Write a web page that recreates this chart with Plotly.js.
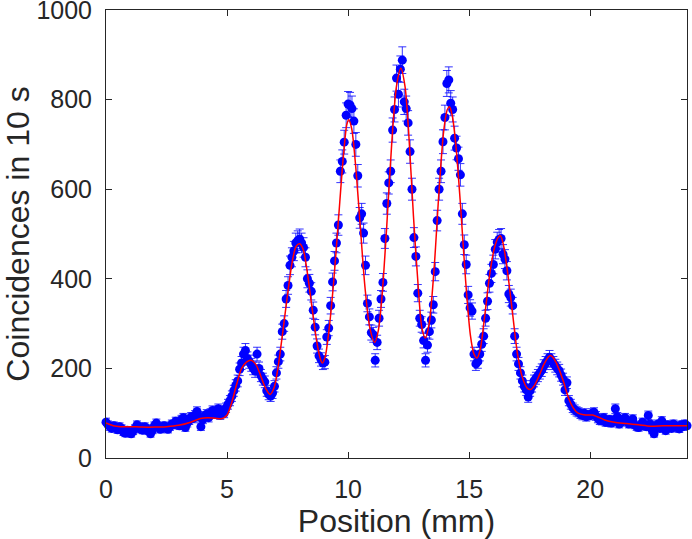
<!DOCTYPE html>
<html>
<head>
<meta charset="utf-8">
<script src="https://cdn.plot.ly/plotly-3.0.1.min.js"></script>
<style>html,body{margin:0;padding:0;background:#fff;}#chart{width:692px;height:539px;}</style>
</head>
<body>
<div id="chart"></div>
<script>
// Measured positions (mm)
const positions = [0.00,0.08,0.16,0.24,0.32,0.40,0.48,0.56,0.64,0.72,0.80,0.88,0.96,1.04,1.12,1.20,1.28,1.36,1.44,1.52,1.60,1.68,1.76,1.84,1.92,2.00,2.08,2.16,2.24,2.32,2.40,2.48,2.56,2.64,2.72,2.80,2.88,2.96,3.04,3.12,3.20,3.28,3.36,3.44,3.52,3.60,3.68,3.76,3.84,3.92,4.00,4.08,4.16,4.24,4.32,4.40,4.48,4.56,4.64,4.72,4.80,4.88,4.96,5.04,5.12,5.20,5.28,5.36,5.44,5.52,5.60,5.68,5.76,5.84,5.92,6.00,6.08,6.16,6.24,6.32,6.40,6.48,6.56,6.64,6.72,6.80,6.88,6.96,7.04,7.12,7.20,7.28,7.36,7.44,7.52,7.60,7.68,7.76,7.84,7.92,8.00,8.08,8.16,8.24,8.32,8.40,8.48,8.56,8.64,8.72,8.80,8.88,8.96,9.04,9.12,9.20,9.28,9.36,9.44,9.52,9.60,9.68,9.76,9.84,9.92,10.00,10.08,10.16,10.24,10.32,10.40,10.48,10.56,10.64,10.72,10.80,10.88,10.96,11.04,11.12,11.20,11.28,11.36,11.44,11.52,11.60,11.68,11.76,11.84,11.92,12.00,12.08,12.16,12.24,12.32,12.40,12.48,12.56,12.64,12.72,12.80,12.88,12.96,13.04,13.12,13.20,13.28,13.36,13.44,13.52,13.60,13.68,13.76,13.84,13.92,14.00,14.08,14.16,14.24,14.32,14.40,14.48,14.56,14.64,14.72,14.80,14.88,14.96,15.04,15.12,15.20,15.28,15.36,15.44,15.52,15.60,15.68,15.76,15.84,15.92,16.00,16.08,16.16,16.24,16.32,16.40,16.48,16.56,16.64,16.72,16.80,16.88,16.96,17.04,17.12,17.20,17.28,17.36,17.44,17.52,17.60,17.68,17.76,17.84,17.92,18.00,18.08,18.16,18.24,18.32,18.40,18.48,18.56,18.64,18.72,18.80,18.88,18.96,19.04,19.12,19.20,19.28,19.36,19.44,19.52,19.60,19.68,19.76,19.84,19.92,20.00,20.08,20.16,20.24,20.32,20.40,20.48,20.56,20.64,20.72,20.80,20.88,20.96,21.04,21.12,21.20,21.28,21.36,21.44,21.52,21.60,21.68,21.76,21.84,21.92,22.00,22.08,22.16,22.24,22.32,22.40,22.48,22.56,22.64,22.72,22.80,22.88,22.96,23.04,23.12,23.20,23.28,23.36,23.44,23.52,23.60,23.68,23.76,23.84,23.92,24.00];

// Coincidence counts in 10 s at each position
const counts = [80,74,70,66,72,68,63,70,66,58,55,62,56,54,60,66,74,70,64,62,70,66,60,54,62,72,78,70,64,66,72,68,64,70,76,74,82,78,72,86,90,68,78,84,92,88,96,104,92,70,86,94,98,90,100,106,98,104,110,96,106,100,112,120,128,138,150,162,172,198,212,232,240,222,215,208,200,194,232,200,184,176,170,150,142,138,145,160,190,215,232,282,300,355,385,430,448,462,480,485,489,480,470,448,400,390,372,330,292,250,228,220,212,214,270,290,340,393,440,480,520,640,662,705,765,790,788,780,752,700,630,536,545,502,430,345,315,280,275,218,258,312,355,392,490,568,614,640,732,778,848,812,868,888,795,780,748,684,600,492,450,368,312,298,262,218,252,282,308,342,416,530,600,640,706,760,836,844,792,778,714,692,668,632,545,476,432,364,335,328,232,210,215,232,254,272,312,350,390,412,432,466,482,488,490,455,444,418,366,358,340,272,232,210,190,172,160,152,136,150,160,172,178,184,190,196,205,212,218,225,218,212,206,200,195,185,176,152,168,128,120,112,108,104,102,98,95,100,92,96,95,100,102,94,88,84,83,90,80,80,86,78,84,110,92,76,80,86,90,82,76,80,87,74,70,68,72,80,74,70,95,76,62,54,72,76,66,83,70,61,74,70,66,76,72,68,65,74,70,76,72];

// Fitted curve
const fitX = [0,0.3,0.6,1.0,1.5,2.0,2.5,3.0,3.5,3.9,4.2,4.5,4.8,5.0,5.2,5.4,5.6,5.8,6.0,6.2,6.4,6.6,6.78,6.95,7.1,7.3,7.5,7.7,7.85,8.0,8.15,8.3,8.5,8.7,8.85,8.93,9.05,9.2,9.4,9.6,9.8,9.95,10.03,10.15,10.3,10.5,10.7,10.9,11.1,11.25,11.4,11.6,11.8,12.0,12.18,12.35,12.5,12.7,12.9,13.05,13.19,13.35,13.55,13.75,13.95,14.1,14.19,14.3,14.45,14.65,14.85,15.05,15.2,15.32,15.45,15.65,15.85,16.05,16.2,16.29,16.4,16.6,16.8,17.0,17.2,17.4,17.54,17.7,17.9,18.1,18.3,18.37,18.5,18.7,18.9,19.1,19.3,19.5,19.8,20.1,20.3,20.6,21.0,21.5,22.0,22.5,23.0,23.5,24.0];
const fitY = [78,72,70,70,69,69,70,73,80,88,90,89,88,96,125,165,200,214,218,208,182,155,142,158,200,280,365,440,472,478,465,420,340,262,222,212,225,280,390,530,670,745,755,735,660,520,380,290,258,285,360,520,700,830,870,830,730,540,380,290,268,300,420,590,730,778,784,765,700,560,400,275,232,223,240,320,410,470,492,496,480,410,320,232,180,156,153,162,185,210,227,229,222,200,170,135,112,100,96,96,92,85,80,77,74,71,72,72,72];

const xTicks = [0,5,10,15,20];
const yTicks = [0,200,400,600,800,1000];

const axisColor = '#262626';
const fontFam = 'Liberation Sans, Arial, Helvetica, sans-serif';

const data = [
  {
    x: positions, y: counts, type: 'scatter', mode: 'markers',
    marker: {color: '#0000ff', size: 9, line: {width: 0}},
    error_y: {type: 'sqrt', visible: true, color: 'rgba(0,0,255,0.8)', thickness: 1, width: 4},
    showlegend: false, hoverinfo: 'skip', cliponaxis: false
  },
  {
    x: fitX, y: fitY, type: 'scatter', mode: 'lines',
    line: {color: '#ff0000', width: 1.5, shape: 'spline', smoothing: 0.8},
    showlegend: false, hoverinfo: 'skip'
  }
];

const axisCommon = {
  showline: true, mirror: 'ticks', linecolor: axisColor, linewidth: 1,
  ticks: 'inside', ticklen: 6, tickwidth: 1, tickcolor: axisColor,
  showgrid: false, zeroline: false, ticklabeloverflow: 'allow',
  tickfont: {family: fontFam, size: 25, color: axisColor}
};

const layout = {
  width: 692, height: 539,
  margin: {l: 106, r: 5, t: 10, b: 81, pad: 0},
  paper_bgcolor: '#ffffff', plot_bgcolor: '#ffffff',
  xaxis: Object.assign({}, axisCommon, {
    range: [0, 24], tickvals: xTicks, ticktext: xTicks.map(String),
    ticklabelstandoff: 9,
    title: {text: 'Position (mm)', font: {family: fontFam, size: 32, color: axisColor}, standoff: 3}
  }),
  yaxis: Object.assign({}, axisCommon, {
    range: [0, 1000], tickvals: yTicks, ticktext: yTicks.map(String),
    ticklabelstandoff: 8,
    title: {text: 'Coincidences in 10 s', font: {family: fontFam, size: 32, color: axisColor}, standoff: 0}
  })
};

Plotly.newPlot('chart', data, layout, {displayModeBar: false, staticPlot: true});
</script>
</body>
</html>
